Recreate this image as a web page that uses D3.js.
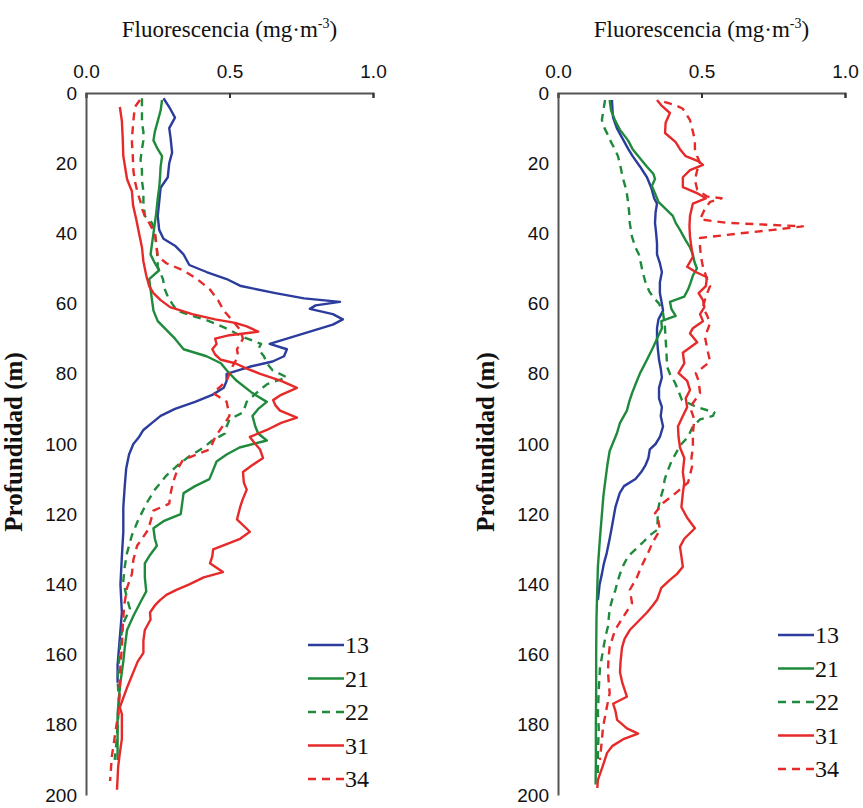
<!DOCTYPE html>
<html>
<head>
<meta charset="utf-8">
<script src="https://cdn.jsdelivr.net/npm/d3@7"></script>
<style>
  body { margin: 0; background: #fff; }
</style>
</head>
<body>
<div id="chart"></div>
<script>
// profile data: [depth (m), fluorescence (mg m-3)]
var stations = ["13", "21", "22", "31", "34"];
var xTicks = [0, 0.5, 1];
var yTicks = [0, 20, 40, 60, 80, 100, 120, 140, 160, 180, 200];

// left panel
var left13 = [[1.5,0.27],[4,0.29],[7,0.31],[10,0.29],[13,0.295],[17,0.30],[20,0.29],[24,0.285],[27,0.26],[31,0.255],[35,0.25],[39,0.255],[41.5,0.27],[43.5,0.31],[46,0.34],[49,0.36],[51,0.42],[53,0.49],[55,0.54],[57,0.66],[58.5,0.76],[59.5,0.885],[60.5,0.80],[61.5,0.78],[63,0.86],[64.5,0.895],[66,0.86],[68,0.78],[70,0.70],[71.5,0.64],[73,0.70],[75,0.69],[76.5,0.65],[78,0.57],[80,0.49],[82,0.49],[84,0.48],[86,0.44],[88,0.38],[90,0.31],[92,0.26],[94,0.23],[96,0.20],[98,0.185],[100,0.165],[103,0.15],[107,0.14],[112,0.135],[118,0.13],[125,0.13],[132,0.125],[140,0.12],[148,0.125],[153,0.12],[158,0.115],[163,0.11],[168,0.11]];
var left21 = [[2,0.265],[5,0.26],[8,0.25],[11,0.24],[13.5,0.235],[16,0.25],[18,0.265],[21,0.26],[24,0.258],[27,0.255],[30,0.25],[34,0.245],[37,0.24],[40,0.235],[43,0.23],[46,0.225],[48.5,0.24],[50.5,0.255],[53,0.22],[56,0.225],[59,0.23],[62,0.235],[65,0.25],[67.5,0.28],[70,0.31],[73,0.34],[75,0.42],[77,0.47],[79,0.49],[82,0.525],[85.5,0.58],[88,0.63],[90,0.60],[92,0.58],[95,0.59],[97,0.60],[99,0.63],[101,0.535],[103,0.49],[105,0.455],[108,0.44],[110,0.43],[112,0.38],[114,0.34],[117,0.335],[120,0.33],[122,0.27],[124,0.235],[127,0.24],[129,0.247],[132,0.22],[134,0.205],[138,0.205],[142,0.21],[145,0.19],[149,0.165],[153,0.143],[158,0.135],[162,0.13],[168,0.12],[172,0.115],[177,0.11],[183,0.11],[190,0.11]];
var left22 = [[1.5,0.195],[5,0.195],[8.5,0.195],[11,0.20],[13.5,0.20],[16,0.195],[19,0.19],[22,0.195],[25,0.195],[28,0.20],[31,0.20],[35,0.205],[37,0.23],[40,0.24],[43,0.245],[46,0.248],[49.5,0.25],[53,0.268],[56,0.275],[58,0.285],[60,0.30],[62,0.317],[63.5,0.37],[64.7,0.42],[66,0.46],[67.5,0.50],[69.5,0.547],[71.5,0.61],[73,0.60],[75,0.62],[77,0.63],[79,0.65],[81,0.70],[83,0.63],[85,0.60],[88,0.56],[91,0.547],[93,0.50],[95,0.49],[97,0.484],[99,0.44],[101,0.41],[103.5,0.36],[106,0.32],[109,0.28],[113,0.24],[117,0.21],[122,0.18],[126,0.16],[131,0.143],[135,0.135],[139,0.13],[143,0.14],[147,0.153],[151,0.13],[156,0.12],[162,0.115],[167,0.11],[174,0.115],[181,0.11],[186,0.105],[190,0.10]];
var left31 = [[4,0.118],[8,0.125],[13,0.128],[18,0.13],[22,0.138],[24.5,0.143],[26,0.15],[28,0.16],[32,0.164],[36,0.175],[40,0.185],[44,0.195],[48,0.2],[52,0.21],[55,0.22],[57,0.235],[59,0.26],[61,0.293],[63,0.37],[64.5,0.45],[65.5,0.52],[66.5,0.56],[68,0.60],[69,0.50],[70,0.45],[71.5,0.455],[73,0.44],[74.5,0.45],[76,0.47],[77,0.52],[78.5,0.56],[80,0.607],[82,0.68],[84,0.735],[86,0.68],[87.5,0.652],[89,0.66],[90.5,0.676],[92.5,0.735],[94,0.68],[96,0.63],[98,0.571],[100,0.59],[101.5,0.606],[104,0.617],[106,0.58],[108,0.547],[111,0.55],[113,0.56],[116,0.545],[118,0.537],[121.5,0.526],[125,0.571],[127,0.537],[128.5,0.49],[130,0.443],[132,0.44],[134,0.432],[136.5,0.477],[138,0.41],[140,0.36],[141.5,0.317],[143,0.28],[144.5,0.258],[146,0.24],[148,0.223],[150,0.225],[153,0.205],[156,0.2],[159.5,0.2],[162,0.18],[166,0.16],[169,0.145],[171,0.136],[175,0.118],[177,0.125],[181,0.125],[184,0.125],[188,0.118],[192,0.112],[198.5,0.108]];
var left34 = [[2,0.188],[4,0.17],[8,0.165],[11,0.162],[14,0.16],[18,0.163],[22,0.165],[25,0.17],[28.5,0.18],[31,0.19],[33,0.195],[35,0.205],[37,0.22],[40,0.24],[43,0.245],[46.5,0.25],[48.5,0.28],[50.5,0.338],[53,0.387],[56,0.432],[59,0.46],[62,0.48],[65,0.512],[67.5,0.537],[70,0.547],[73,0.526],[75,0.53],[78,0.51],[82,0.49],[85.5,0.443],[88,0.49],[92,0.50],[96,0.467],[98,0.45],[101.5,0.432],[104.5,0.338],[107,0.32],[111,0.303],[114,0.295],[117,0.29],[119,0.235],[122,0.225],[124.5,0.216],[127,0.195],[129,0.178],[133,0.165],[137,0.16],[141,0.143],[146,0.133],[152,0.128],[158,0.125],[163,0.12],[167,0.118],[172,0.117],[177,0.112],[183.5,0.10],[189,0.09],[196,0.084]];

// right panel
var right13 = [[2,0.188],[5,0.19],[7,0.192],[10,0.205],[13,0.225],[16,0.245],[18,0.26],[21,0.286],[24,0.31],[27,0.325],[30,0.335],[31.5,0.345],[34,0.34],[37,0.338],[40,0.342],[43,0.345],[46,0.345],[48.5,0.355],[51,0.362],[54,0.355],[57,0.355],[60,0.362],[62,0.366],[64.5,0.35],[67,0.345],[70,0.345],[73,0.348],[76,0.352],[78.5,0.358],[81,0.362],[84,0.352],[87,0.352],[89.5,0.362],[92,0.358],[95,0.366],[98,0.355],[100,0.34],[101.5,0.32],[104,0.315],[106,0.305],[108,0.29],[110,0.27],[112,0.23],[114,0.215],[118,0.2],[123.5,0.188],[127,0.18],[131,0.17],[134,0.16],[137,0.153],[140,0.145],[144.5,0.139]];
var right21 = [[2,0.18],[5,0.185],[8,0.2],[10.5,0.216],[13.5,0.244],[16,0.26],[19,0.29],[21,0.31],[23,0.332],[24.5,0.338],[26.5,0.327],[29,0.34],[31,0.35],[33,0.375],[35,0.40],[37,0.41],[39,0.425],[42,0.445],[44,0.46],[46,0.47],[48,0.475],[50,0.484],[52,0.47],[54,0.462],[56,0.453],[58,0.44],[59.5,0.39],[61.5,0.395],[63.5,0.41],[65,0.36],[67,0.362],[70,0.345],[72.5,0.331],[76,0.31],[79.8,0.286],[82,0.275],[85.5,0.258],[88,0.248],[90.5,0.24],[94,0.216],[97,0.205],[100,0.19],[102,0.18],[106,0.172],[111,0.164],[115,0.158],[120,0.153],[127,0.146],[135,0.139],[143.6,0.136],[150,0.134],[160,0.133],[170,0.133],[180,0.132],[190,0.132],[197,0.131]];
var right22 = [[2,0.164],[5,0.158],[7.7,0.153],[10,0.162],[11.5,0.171],[14,0.185],[16,0.198],[18,0.209],[21,0.218],[24,0.225],[27.6,0.238],[31,0.244],[34,0.248],[37,0.25],[41,0.258],[44,0.27],[46,0.282],[49,0.29],[51.3,0.296],[54,0.305],[56.5,0.318],[58,0.33],[60,0.352],[62.7,0.366],[66,0.372],[70,0.375],[74,0.378],[78,0.38],[80,0.39],[82.6,0.408],[85,0.42],[87.5,0.432],[89.5,0.484],[91,0.545],[92,0.54],[93,0.495],[95,0.47],[98,0.453],[100,0.43],[102,0.415],[105,0.395],[107.5,0.383],[110,0.372],[113,0.366],[116,0.355],[119,0.348],[122,0.347],[124.5,0.345],[126,0.32],[128,0.296],[130,0.27],[132,0.244],[134.5,0.228],[137,0.216],[139,0.208],[141.6,0.2],[144,0.19],[147,0.18],[152,0.174],[155,0.165],[158.7,0.157],[164,0.146],[170,0.142],[176.6,0.139],[181,0.142],[188,0.139],[195.7,0.139]];
var right31 = [[2,0.345],[3.5,0.36],[5.7,0.39],[8.5,0.375],[11.4,0.373],[14,0.41],[16,0.425],[18,0.445],[19.5,0.49],[20.5,0.505],[22,0.46],[24,0.435],[26.8,0.435],[28.5,0.484],[30,0.515],[31.5,0.47],[35,0.46],[38,0.458],[41,0.46],[44,0.465],[46.7,0.47],[49.5,0.45],[51,0.48],[52.5,0.519],[55,0.515],[57,0.49],[59,0.505],[61,0.51],[63,0.495],[65,0.505],[67,0.47],[68.5,0.46],[71,0.485],[74,0.435],[77,0.44],[79.8,0.42],[82,0.45],[84.6,0.46],[87,0.445],[89.5,0.45],[92,0.435],[95,0.418],[98,0.42],[101,0.425],[104,0.44],[108,0.435],[111,0.44],[114,0.435],[118,0.43],[121,0.45],[124,0.477],[127,0.44],[129.3,0.425],[132,0.43],[135,0.435],[137,0.415],[138.7,0.39],[141,0.36],[144.4,0.345],[146,0.33],[148,0.31],[150.5,0.28],[153,0.25],[155.5,0.232],[158,0.223],[162,0.218],[165,0.216],[168,0.224],[172,0.24],[174,0.192],[176,0.2],[178.6,0.206],[181,0.24],[182.5,0.279],[184,0.23],[186,0.19],[188,0.171],[192,0.155],[195.7,0.139],[198,0.137]];
var right34 = [[2.5,0.37],[3.5,0.41],[4.5,0.435],[7.7,0.46],[11,0.47],[13.5,0.477],[16,0.477],[18,0.485],[20,0.495],[22,0.485],[24.8,0.477],[27.5,0.485],[29.5,0.519],[30,0.57],[31,0.53],[33.3,0.51],[36,0.495],[37,0.59],[37.6,0.75],[38,0.853],[39,0.75],[40,0.634],[41.3,0.495],[44,0.495],[46.5,0.498],[49.5,0.505],[53,0.519],[55,0.53],[58,0.515],[61,0.505],[63.5,0.52],[65.5,0.53],[69.5,0.512],[72.4,0.519],[74,0.523],[76.5,0.53],[79.8,0.48],[82,0.49],[85.5,0.495],[89.5,0.46],[93,0.475],[97,0.47],[101,0.47],[104,0.465],[106.5,0.467],[111,0.453],[114,0.41],[116.8,0.366],[119.7,0.338],[122,0.35],[124.5,0.355],[128,0.33],[131,0.314],[135,0.29],[138,0.275],[141.6,0.25],[145.3,0.258],[149.3,0.227],[153,0.199],[157.8,0.18],[161,0.176],[165,0.174],[171,0.18],[175,0.17],[180.6,0.157],[184.3,0.153],[190,0.146]];

var colors = {"13": "#2b3c9c", "21": "#1f8a3c", "22": "#1f8a3c", "31": "#e62a2a", "34": "#e62a2a"};
var dashed = {"13": false, "21": false, "22": true, "31": false, "34": true};

var W = 863, H = 808;
var plotTop = 93, plotBottom = 795;

var svg = d3.select("#chart").append("svg")
    .attr("width", W)
    .attr("height", H);

var y = d3.scaleLinear().domain([0, 200]).range([plotTop, plotBottom]);

function drawPanel(x0, x1, data, legX, legY, labelX){
    var x = d3.scaleLinear().domain([0, 1]).range([x0, x1]);
    var g = svg.append("g");

    // top axis
    var xAxis = g.append("g")
        .attr("transform", "translate(0," + plotTop + ")")
        .call(d3.axisTop(x).tickValues(xTicks).tickFormat(d3.format(".1f")).tickSize(-5).tickPadding(15));
    xAxis.select(".domain").attr("stroke", "#555").attr("stroke-width", 2);
    xAxis.selectAll(".tick line").attr("stroke", "#333").attr("stroke-width", 2);
    xAxis.selectAll("text")
        .attr("font-family", "Liberation Sans, Arial, sans-serif")
        .attr("font-size", 19)
        .attr("fill", "#111");

    var yAxis = g.append("g")
        .attr("transform", "translate(" + x0 + ",0)")
        .call(d3.axisLeft(y).tickValues(yTicks).tickSize(0).tickPadding(9));
    yAxis.select(".domain").attr("stroke", "#555").attr("stroke-width", 2);
    yAxis.selectAll("text")
        .attr("font-family", "Liberation Sans, Arial, sans-serif")
        .attr("font-size", 19)
        .attr("fill", "#111");

    // title
    var title = g.append("text")
        .attr("x", (x0 + x1) / 2)
        .attr("y", 37)
        .attr("text-anchor", "middle")
        .attr("font-family", "Liberation Serif, Times New Roman, serif")
        .attr("font-size", 23)
        .attr("fill", "#111");
    title.append("tspan").text("Fluorescencia (mg·m");
    title.append("tspan").attr("dy", -9).attr("font-size", 14).text("-3");
    title.append("tspan").attr("dy", 9).text(")");

    g.append("text")
        .attr("transform", "translate(" + labelX + "," + 442 + ") rotate(-90)")
        .attr("text-anchor", "middle")
        .attr("font-family", "Liberation Serif, Times New Roman, serif")
        .attr("font-weight", "bold")
        .attr("font-size", 25)
        .attr("fill", "#111")
        .text("Profundidad (m)");

    var line = d3.line()
        .x(function(d){ return x(d[1]); })
        .y(function(d){ return y(d[0]); });

    stations.forEach(function(s, i){
        g.append("path")
            .attr("d", line(data[i]))
            .attr("fill", "none")
            .attr("stroke", colors[s])
            .attr("stroke-width", 2.4)
            .attr("stroke-dasharray", dashed[s] ? "8,6" : null)
            .attr("stroke-linejoin", "round");

        var ly = legY + i * 33.5;
        g.append("line")
            .attr("x1", legX).attr("x2", legX + 36)
            .attr("y1", ly).attr("y2", ly)
            .attr("stroke", colors[s])
            .attr("stroke-width", 2.6)
            .attr("stroke-dasharray", dashed[s] ? "8,6" : null);
        g.append("text")
            .attr("x", legX + 37)
            .attr("y", ly + 8)
            .attr("font-family", "Liberation Serif, Times New Roman, serif")
            .attr("font-size", 24)
            .attr("fill", "#111")
            .text(s);
    });
}

drawPanel(86, 373, [left13, left21, left22, left31, left34], 308, 645, 22);
drawPanel(558, 845, [right13, right21, right22, right31, right34], 778, 635, 494);
</script>
</body>
</html>
